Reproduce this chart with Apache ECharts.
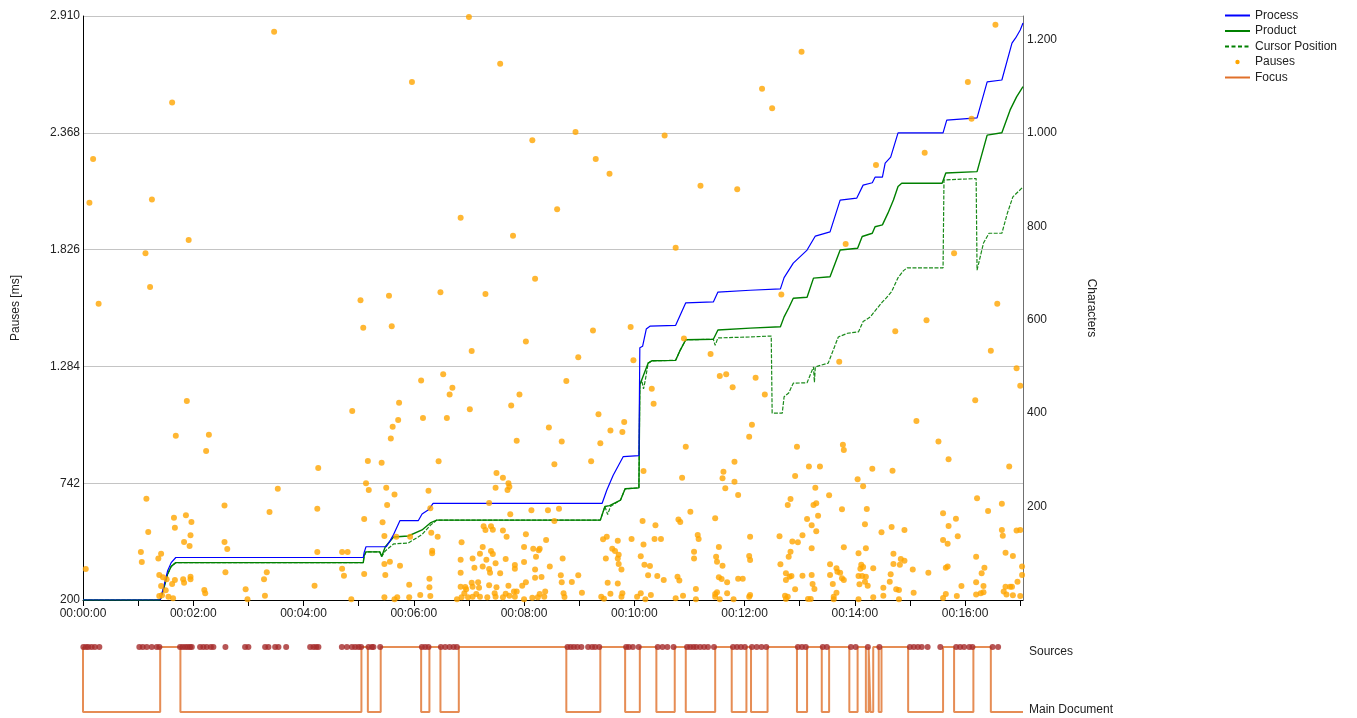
<!DOCTYPE html>
<html>
<head>
<meta charset="utf-8">
<title>Writing process graph</title>
<script src="https://cdn.jsdelivr.net/npm/echarts@6/dist/echarts.min.js"></script>
<style>
  html, body { margin: 0; padding: 0; background: #ffffff; }
  #chart { width: 1357px; height: 718px; }
</style>
</head>
<body>
<div id="chart"></div>
<script>
// Time axis in seconds, characters on the right axis, pause lengths (ms) on the left axis.
const timeMax = 1023;
const pauseTicks = [200, 742, 1284, 1826, 2368, 2910];
const charTicks = [0, 200, 400, 600, 800, 1000, 1200];
const focusLevels = ['Main Document', 'Sources'];

// [seconds, characters]
const processData = [
  [0,0],[84,0],[88,30],[92,62],[96,80],[101,91],[305,91],[306,102],[308,114],[330,114],[334,126],
  [338,140],[345,170],[365,170],[369,184],[376,193],[381,207],[565,207],[570,235],[577,267],[588,307],
  [605,309],[606,540],[609,543],[613,580],[617,586],[645,588],[650,610],[656,636],[686,638],[691,659],
  [726,663],[759,666],[763,690],[773,721],[788,749],[797,779],[813,788],[824,856],[842,860],[849,888],
  [859,893],[862,905],[870,905],[873,935],[879,948],[887,1000],[936,1000],[940,1027],[973,1032],
  [984,1109],[1000,1113],[1011,1192],[1015,1203],[1020,1220],[1023,1235]
];

const productData = [
  [0,0],[84,0],[88,25],[92,55],[96,72],[101,80],[305,80],[306,95],[308,103],[323,103],[325,93],
  [329,114],[338,135],[354,137],[369,150],[378,165],[385,171],[563,171],[568,200],[573,202],[585,214],
  [590,238],[605,240],[606,460],[608,471],[615,507],[619,512],[645,513],[650,535],[656,557],[686,558],
  [691,578],[726,582],[759,585],[763,606],[768,625],[773,646],[788,648],[795,689],[813,692],[824,749],
  [843,753],[848,778],[859,785],[862,799],[870,803],[876,828],[882,856],[887,885],[891,892],[935,892],
  [939,914],[973,917],[984,995],[1000,1000],[1009,1049],[1016,1077],[1023,1099]
];

const cursorData = [
  [0,0],[84,0],[88,25],[92,55],[96,72],[101,80],[305,80],[306,95],[308,103],[323,103],[325,93],
  [329,105],[338,120],[354,122],[369,140],[378,160],[385,171],[563,171],[568,200],[571,183],[574,200],
  [585,214],[590,238],[605,240],[606,460],[608,471],[610,452],[612,471],[615,507],[619,512],[645,513],
  [650,535],[656,557],[686,558],[688,545],[691,561],[726,563],[749,565],[750,400],[761,400],[763,435],
  [768,443],[773,464],[788,465],[795,499],[796,466],[797,499],[811,507],[822,563],[832,571],[844,574],
  [849,596],[857,606],[860,614],[870,638],[874,646],[880,660],[887,690],[893,705],[897,711],[936,711],
  [937,899],[972,902],[973,706],[980,764],[986,785],[1000,785],[1006,828],[1012,863],[1023,884]
];

// [seconds, pause length in ms]
const pauses = [
  [3,344],[7,2043],[11,2246],[17,1575],[63,423],[64,376],[68,1809],[69,670],[71,516],[73,1652],[75,2059],
  [82,392],[83,316],[83,219],[85,415],[85,265],[86,222],[87,305],[90,245],[91,296],[93,215],[97,2509],
  [97,274],[98,208],[99,582],[100,293],[100,535],[101,962],[109,296],[110,280],[110,469],[112,593],
  [113,1123],[115,1870],[116,451],[117,308],[117,296],[117,500],[118,562],[132,246],[133,231],[134,891],
  [137,967],[154,639],[154,469],[155,329],[157,437],[177,250],[179,203],[197,296],[198,220],[200,329],
  [203,608],[208,2837],[212,716],[252,266],[255,423],[255,624],[256,812],[282,423],[282,345],[284,313],
  [288,423],[292,203],[293,1077],[302,1591],[305,1463],[306,576],[306,321],[308,742],[310,845],[311,710],
  [325,837],[326,561],[328,367],[328,213],[328,497],[329,316],[330,721],[331,641],[333,1612],[334,378],
  [335,950],[336,1470],[337,1004],[339,690],[339,203],[341,494],[342,213],[343,1035],[344,1115],[345,359],
  [355,271],[355,213],[356,494],[358,2604],[367,223],[368,1219],[370,1044],[376,707],[377,299],[377,259],
  [378,626],[378,219],[379,512],[380,429],[380,417],[386,494],[387,844],[389,1628],[392,1247],[396,1044],
  [399,1154],[402,1185],[407,203],[411,1974],[411,387],[411,327],[411,262],[412,468],[412,213],[415,231],
  [416,260],[417,250],[419,213],[420,2905],[421,1085],[423,280],[423,1355],[424,392],[424,262],[424,215],
  [426,350],[428,228],[430,282],[431,257],[432,415],[432,215],[435,355],[435,446],[436,542],[438,1620],
  [438,525],[439,387],[440,213],[442,650],[442,268],[442,344],[443,327],[444,542],[444,427],[446,413],
  [446,526],[448,231],[449,721],[449,370],[449,215],[450,789],[450,259],[454,2688],[454,324],[457,767],
  [457,213],[457,523],[460,390],[460,229],[461,494],[462,710],[463,742],[463,266],[464,726],[464,220],
  [465,598],[466,1103],[468,1890],[469,239],[470,345],[470,362],[470,215],[472,239],[472,939],[475,1154],
  [478,266],[480,376],[480,203],[480,446],[482,1399],[482,505],[482,282],[488,616],[489,211],[489,2334],
  [490,438],[492,1691],[492,341],[492,303],[493,401],[495,213],[496,431],[497,438],[497,228],[499,307],
  [502,215],[503,239],[504,478],[506,616],[507,1000],[508,355],[513,567],[513,830],[516,2013],[518,624],
  [520,315],[521,282],[521,936],[522,392],[523,231],[524,214],[526,1216],[532,284],[536,2372],[539,315],
  [539,1326],[543,234],[553,844],[555,1451],[558,2246],[561,1062],[563,927],[564,215],[566,482],[567,206],
  [569,393],[570,494],[571,280],[573,2178],[574,987],[574,229],[576,438],[579,427],[582,277],[582,475],
  [582,393],[583,367],[583,410],[586,215],[586,341],[587,231],[587,980],[589,1026],[596,1467],[597,483],
  [599,1312],[603,215],[607,403],[607,231],[609,567],[610,799],[610,458],[611,364],[612,203],[615,315],
  [617,358],[618,223],[619,1180],[621,1111],[622,483],[623,547],[625,311],[629,483],[632,293],[633,2356],
  [645,1835],[645,208],[647,308],[648,574],[649,291],[650,562],[652,767],[653,220],[654,1414],[656,911],
  [661,610],[665,424],[665,393],[667,203],[667,251],[669,502],[670,483],[672,2122],[683,1341],[688,579],
  [688,215],[688,228],[689,401],[690,378],[690,236],[692,446],[692,305],[693,203],[693,1239],[695,297],
  [696,765],[696,359],[697,795],[699,718],[700,1247],[701,231],[701,282],[707,1187],[708,203],[709,842],
  [709,749],[712,2106],[713,687],[713,299],[718,299],[725,958],[725,215],[725,404],[726,386],[726,494],
  [726,223],[728,1013],[732,1231],[739,2572],[742,1154],[750,2482],[758,496],[759,366],[760,1618],
  [764,220],[765,324],[765,293],[765,205],[767,641],[767,215],[768,401],[769,308],[770,424],[770,669],
  [771,311],[772,471],[775,775],[775,250],[777,911],[778,468],[782,2744],[783,313],[783,500],[788,576],
  [789,205],[790,820],[792,205],[793,316],[793,440],[793,547],[794,274],[795,641],[796,251],[797,721],
  [798,649],[798,519],[800,591],[802,820],[812,686],[813,316],[813,366],[816,274],[817,215],[817,203],
  [820,347],[820,234],[821,331],[823,1306],[824,327],[826,301],[826,621],[827,921],[828,293],[828,896],
  [828,445],[830,1852],[843,760],[844,311],[844,203],[844,417],[845,273],[846,345],[847,364],[848,311],
  [849,353],[849,728],[851,551],[851,285],[852,308],[852,440],[853,622],[854,266],[859,809],[860,347],
  [860,213],[863,2218],[869,514],[871,257],[871,220],[878,285],[879,319],[880,539],[881,800],[882,415],
  [882,367],[884,1447],[885,250],[888,246],[888,203],[889,364],[890,390],[894,382],[894,525],[903,342],
  [904,234],[907,1031],[916,2275],[918,1498],[920,327],[931,935],[936,602],[936,478],[936,209],[939,350],
  [939,228],[941,461],[941,356],[942,853],[942,543],[948,1809],[950,577],[951,219],[952,496],[956,265],
  [963,2604],[967,2433],[971,1127],[972,401],[972,282],[972,226],[973,672],[977,231],[978,324],[980,265],
  [980,236],[981,350],[985,613],[988,1357],[993,2869],[995,1575],[1000,647],[1000,525],[1001,498],
  [1002,239],[1004,419],[1004,262],[1005,226],[1008,820],[1009,262],[1011,262],[1012,222],[1012,404],
  [1016,1275],[1016,523],[1017,285],[1020,1194],[1020,525],[1020,219],[1022,316],[1022,356]
];

// Focus switches: [seconds, window that gets focus]
const focusSwitches = [
  [0,'Sources'],[84,'Main Document'],[106,'Sources'],[303,'Main Document'],[310,'Sources'],
  [324,'Main Document'],[368,'Sources'],[377,'Main Document'],[389,'Sources'],[409,'Main Document'],
  [526,'Sources'],[563,'Main Document'],[590,'Sources'],[606,'Main Document'],[624,'Sources'],
  [644,'Main Document'],[656,'Sources'],[688,'Main Document'],[706,'Sources'],[722,'Main Document'],
  [727,'Sources'],[745,'Main Document'],[777,'Sources'],[788,'Main Document'],[804,'Sources'],
  [812,'Main Document'],[834,'Sources'],[843,'Main Document'],[852,'Sources'],[855,'Main Document'],
  [857,'Sources'],[860,'Main Document'],[866,'Sources'],[869,'Main Document'],[898,'Sources'],
  [936,'Main Document'],[948,'Sources'],[969,'Main Document'],[988,'Sources'],[1000,'Main Document'],
  [1023,'Main Document']
];

// Seconds at which events were logged while the sources window had focus
const sourceEvents = [
  0.4,3.3,5.8,9.4,13,17.8,61.3,65,69.4,74.8,80.2,83.1,105.6,108.5,111.4,114,116.5,118.4,127.4,131,
  134.7,139.1,141.9,155,176.4,180,198.2,201.8,209.1,212.7,221.1,247.2,250.8,253.7,256.2,281.7,287.2,
  292.6,296.2,299.8,302.7,310.7,314.4,316.1,323.4,368.8,372.4,376,389.5,394.2,398.9,403.3,406.9,
  527.3,530.7,534.2,538,542.4,549.7,554,557.4,561.8,591.1,594.1,598.4,604.8,625.5,630.7,636,642.7,
  657.4,660.8,664.3,667.4,671.6,676,680.2,686.7,707.4,711.7,716,720.3,728,733.2,738.4,743.6,
  778,782.4,786.6,805.1,809.5,835.7,840.9,854.2,866.7,899.9,904.2,908.6,912.8,919.2,933,
  950.3,954.6,958.9,964.5,968,989.9,995.9
];

const pad2 = n => (n < 10 ? '0' : '') + n;
const clock = s => {
  const h = Math.floor(s / 3600), m = Math.floor((s % 3600) / 60), sec = Math.round(s % 60);
  return pad2(h) + ':' + pad2(m) + ':' + pad2(sec);
};
const thousands = v => {
  const s = String(Math.round(v));
  return s.length > 3 ? s.slice(0, s.length - 3) + '.' + s.slice(s.length - 3) : s;
};

const FONT = 'Liberation Sans, Arial, sans-serif';
const TEXT = '#222222';

const chart = echarts.init(document.getElementById('chart'), null, { renderer: 'canvas' });

const legendItems = [
  { name: 'Process', kind: 'line', color: '#0000ff' },
  { name: 'Product', kind: 'line', color: '#008000' },
  { name: 'Cursor Position', kind: 'dash', color: '#008000' },
  { name: 'Pauses', kind: 'dot', color: '#ffa500' },
  { name: 'Focus', kind: 'line', color: '#e0702a' }
];
const legendGraphics = [];
legendItems.forEach((it, i) => {
  const y = 15.5 + i * 15.5;
  if (it.kind === 'dot') {
    legendGraphics.push({ type: 'circle', shape: { cx: 1237.5, cy: y, r: 2.2 }, style: { fill: it.color } });
  } else {
    legendGraphics.push({
      type: 'line', shape: { x1: 1225, y1: y, x2: 1250, y2: y },
      style: { stroke: it.color, lineWidth: 2, lineDash: it.kind === 'dash' ? [4, 2.5] : null }
    });
  }
  legendGraphics.push({
    type: 'text', x: 1255, y: y,
    style: { text: it.name, font: '12px ' + FONT, fill: TEXT, verticalAlign: 'middle', align: 'left' }
  });
});

chart.setOption({
  animation: false,
  backgroundColor: '#ffffff',
  textStyle: { fontFamily: FONT },
  grid: [
    { left: 83, top: 16, width: 940, height: 584, containLabel: false, outerBoundsMode: 'none' },
    { left: 83, top: 647, width: 940, height: 65, containLabel: false, outerBoundsMode: 'none' }
  ],
  xAxis: [
    {
      type: 'value', gridIndex: 0, min: 0, max: timeMax, interval: 60,
      axisLine: { show: true, lineStyle: { color: '#000000', width: 1 } },
      axisTick: { show: true, length: 6, lineStyle: { color: '#000000' } },
      splitLine: { show: false },
      axisLabel: {
        fontSize: 12, color: TEXT, margin: 8, fontFamily: FONT,
        showMaxLabel: false,
        formatter: v => (v % 120 === 0 ? clock(v) : '')
      }
    },
    {
      type: 'value', gridIndex: 1, min: 0, max: timeMax,
      show: false
    }
  ],
  yAxis: [
    {
      type: 'value', gridIndex: 0, position: 'left',
      min: pauseTicks[0], max: pauseTicks[pauseTicks.length - 1],
      interval: pauseTicks[1] - pauseTicks[0],
      name: 'Pauses [ms]', nameLocation: 'middle', nameGap: 61, nameRotate: 90,
      nameTextStyle: { fontSize: 12, color: TEXT, fontFamily: FONT },
      axisLine: { show: true, lineStyle: { color: '#000000', width: 1 } },
      axisTick: { show: false },
      splitLine: { show: true, lineStyle: { color: '#c4c4c4', width: 1 } },
      axisLabel: { fontSize: 12, color: TEXT, margin: 3, fontFamily: FONT, formatter: v => thousands(v) }
    },
    {
      type: 'value', gridIndex: 0, position: 'right',
      min: charTicks[0], max: 1250, interval: charTicks[1] - charTicks[0],
      name: 'Characters', nameLocation: 'middle', nameGap: 62, nameRotate: -90,
      nameTextStyle: { fontSize: 12, color: TEXT, fontFamily: FONT },
      axisLine: { show: true, lineStyle: { color: '#707070', width: 1 } },
      axisTick: { show: false },
      splitLine: { show: false },
      axisLabel: {
        fontSize: 12, color: TEXT, margin: 4, fontFamily: FONT,
        formatter: v => (v > 0 && v % 200 === 0 ? thousands(v) : '')
      }
    },
    {
      type: 'category', gridIndex: 1, position: 'right', data: focusLevels, boundaryGap: false,
      axisLine: { show: false }, axisTick: { show: false }, splitLine: { show: false },
      axisLabel: {
        fontSize: 12, color: TEXT, margin: 6, fontFamily: FONT,
        formatter: v => (v === 'Sources' ? '{s|' + v + '}' : '{m|' + v + '}'),
        rich: {
          s: { fontSize: 12, color: TEXT, fontFamily: FONT, padding: [9, 0, 0, 0] },
          m: { fontSize: 12, color: TEXT, fontFamily: FONT, padding: [0, 0, 4, 0] }
        }
      }
    }
  ],
  series: [
    {
      name: 'Cursor Position', type: 'line', xAxisIndex: 0, yAxisIndex: 1,
      data: cursorData, showSymbol: false, symbol: 'none', z: 2,
      lineStyle: { color: '#1a8a1a', width: 1.2, type: [4, 1.5] }
    },
    {
      name: 'Product', type: 'line', xAxisIndex: 0, yAxisIndex: 1,
      data: productData, showSymbol: false, symbol: 'none', z: 3,
      lineStyle: { color: '#008000', width: 1.4 }
    },
    {
      name: 'Process', type: 'line', xAxisIndex: 0, yAxisIndex: 1,
      data: processData, showSymbol: false, symbol: 'none', z: 4,
      lineStyle: { color: '#0000ff', width: 1.2 }
    },
    {
      name: 'Pauses', type: 'scatter', xAxisIndex: 0, yAxisIndex: 0,
      data: pauses, symbol: 'circle', symbolSize: 6, z: 5,
      itemStyle: { color: '#ffa500' }
    },
    {
      name: 'Focus', type: 'line', xAxisIndex: 1, yAxisIndex: 2, step: 'end',
      data: focusSwitches, showSymbol: false, symbol: 'none', z: 2,
      lineStyle: { color: '#e0702a', width: 2, opacity: 0.8 }
    },
    {
      name: 'Source events', type: 'scatter', xAxisIndex: 1, yAxisIndex: 2,
      data: sourceEvents.map(t => [t, 'Sources']), symbol: 'circle', symbolSize: 6, z: 3,
      itemStyle: { color: '#a52a2a' }
    }
  ],
  graphic: legendGraphics
});
</script>
</body>
</html>
